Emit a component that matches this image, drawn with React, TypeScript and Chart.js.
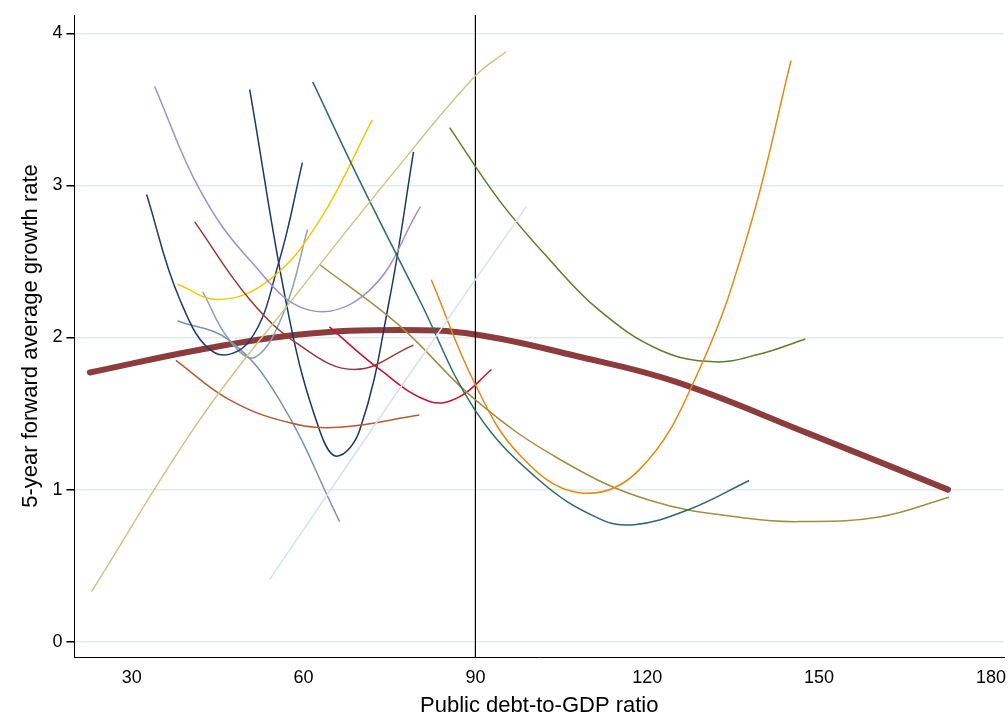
import { useEffect, useRef } from "react";
import { Chart, registerables } from "chart.js";

Chart.register(...registerables);

// [debt ratio, growth] points for each country curve
const pooled = [[22.7, 1.77], [41.9, 1.92], [59.3, 2.02], [76.7, 2.05], [90, 2.02], [107.4, 1.88], [124.9, 1.71], [148.1, 1.37], [172.5, 1.0]];
const khaki = [[23, 0.33], [41.9, 1.46], [59.3, 2.31], [76.7, 3.13], [90, 3.72], [95.4, 3.88]];
const orange = [[82.3, 2.38], [90, 1.69], [97.7, 1.23], [108.1, 0.98], [118.6, 1.13], [129.1, 1.79], [137.8, 2.71], [145.1, 3.82]];
const olive = [[85.5, 3.38], [94.2, 2.9], [103, 2.51], [111.6, 2.18], [122.1, 1.92], [131.7, 1.84], [139.5, 1.89], [147.6, 1.99]];
const teal = [[61.6, 3.68], [69.8, 3.03], [80.2, 2.25], [90, 1.52], [101.2, 1.06], [111.6, 0.81], [117.7, 0.77], [127.3, 0.87], [137.8, 1.06]];
const tan = [[62.8, 2.48], [76.7, 2.08], [90, 1.59], [104.7, 1.2], [120.4, 0.93], [137.8, 0.81], [146.5, 0.79], [160.5, 0.82], [172.7, 0.95]];
const pale = [[54.1, 0.41], [76.7, 1.66], [98.9, 2.86]];
const crimson = [[64.5, 2.07], [73.3, 1.79], [82, 1.58], [87.2, 1.61], [92.8, 1.79]];
const maroon = [[41, 2.76], [50.6, 2.25], [59.3, 1.95], [68.9, 1.79], [79.2, 1.95]];
const rust = [[37.7, 1.85], [47.1, 1.59], [57.6, 1.44], [66.3, 1.41], [80.2, 1.49]];
const lavender = [[34, 3.65], [41.9, 2.97], [50.6, 2.51], [61, 2.18], [71.5, 2.31], [80.4, 2.86]];
const gold = [[38, 2.35], [45.3, 2.25], [54.1, 2.38], [62.8, 2.77], [72, 3.43]];
const navyWide = [[32.6, 2.94], [38.4, 2.25], [44.5, 1.9], [50.6, 1.98], [55.8, 2.51], [59.8, 3.15]];
const navyNarrow = [[50.6, 3.63], [57.6, 2.11], [62.8, 1.39], [65.8, 1.22], [69.8, 1.39], [75, 2.25], [79.2, 3.22]];
const slate = [[38, 2.11], [47.1, 1.98], [55.8, 1.59], [66.3, 0.79]];
const steel = [[42.4, 2.3], [47.1, 1.98], [51.5, 1.87], [56.7, 2.18], [60.7, 2.71]];
const threshold = [[90, -0.1], [90, 4.12]];

const yTicks = [0, 1, 2, 3, 4];
const xTicks = [30, 60, 90, 120, 150, 180];

const curves: [number[][], string][] = [
  [khaki, "#cdc48a"],
  [pale, "#d8e2ea"],
  [orange, "#e8860e"],
  [olive, "#5f7d2c"],
  [teal, "#2f6a66"],
  [tan, "#a38d45"],
  [crimson, "#c8102e"],
  [maroon, "#963a36"],
  [rust, "#b75a34"],
  [lavender, "#9c90d2"],
  [gold, "#f2ca00"],
  [navyWide, "#1d3d6a"],
  [navyNarrow, "#1a3766"],
  [slate, "#7b95a1"],
  [steel, "#8ea2b2"],
];

export default function App() {
  const chartRef = useRef<HTMLCanvasElement>(null);

  useEffect(() => {
    document.body.style.margin = "0";
    const ctx = chartRef.current!.getContext("2d")!;
    const toPts = (a: number[][]) => a.map(([x, y]) => ({ x, y }));
    const datasets: any[] = curves.map(([d, c]) => ({
      data: toPts(d),
      borderColor: c,
      borderWidth: 1.5,
      showLine: true,
      pointRadius: 0,
      tension: 0.4,
    }));
    datasets.push({
      data: toPts(threshold),
      borderColor: "#000",
      borderWidth: 1.2,
      showLine: true,
      pointRadius: 0,
    });
    datasets.push({
      data: toPts(pooled),
      borderColor: "#8c3c3c",
      borderWidth: 6,
      borderCapStyle: "round",
      showLine: true,
      pointRadius: 0,
      tension: 0.4,
    });
    const chart = new Chart(ctx, {
      type: "scatter",
      data: { datasets },
      options: {
        animation: false,
        responsive: true,
        maintainAspectRatio: false,
        layout: { padding: { top: 15, right: 3, bottom: 0, left: 18 } },
        plugins: { legend: { display: false }, tooltip: { enabled: false } },
        scales: {
          x: {
            type: "linear",
            min: 20,
            max: 182.3,
            afterBuildTicks: (axis) => {
              axis.ticks = xTicks.map((v) => ({ value: v }));
            },
            grid: { display: false, drawTicks: true, tickLength: 8 },
            border: { color: "#000", width: 1 },
            ticks: { color: "#000", font: { family: "Liberation Sans", size: 18 }, padding: 2 },
            title: {
              display: true,
              text: "Public debt-to-GDP ratio",
              color: "#000",
              font: { family: "Liberation Sans", size: 22 },
              padding: { top: 2, bottom: 0 },
            },
          },
          y: {
            type: "linear",
            min: -0.1,
            max: 4.12,
            afterBuildTicks: (axis) => {
              axis.ticks = yTicks.map((v) => ({ value: v }));
            },
            grid: { color: "#e4ebee", lineWidth: 1.5, tickColor: "#000", tickLength: 8 },
            border: { color: "#000", width: 1 },
            ticks: { color: "#000", font: { family: "Liberation Sans", size: 18 }, padding: 4 },
            title: {
              display: true,
              text: "5-year forward average growth rate",
              color: "#000",
              font: { family: "Liberation Sans", size: 22 },
              padding: { top: 0, bottom: 4 },
            },
          },
        },
      },
    });
    return () => chart.destroy();
  }, []);

  return (
    <div style={{ width: 1008, height: 719, background: "#fff" }}>
      <canvas ref={chartRef} />
    </div>
  );
}
